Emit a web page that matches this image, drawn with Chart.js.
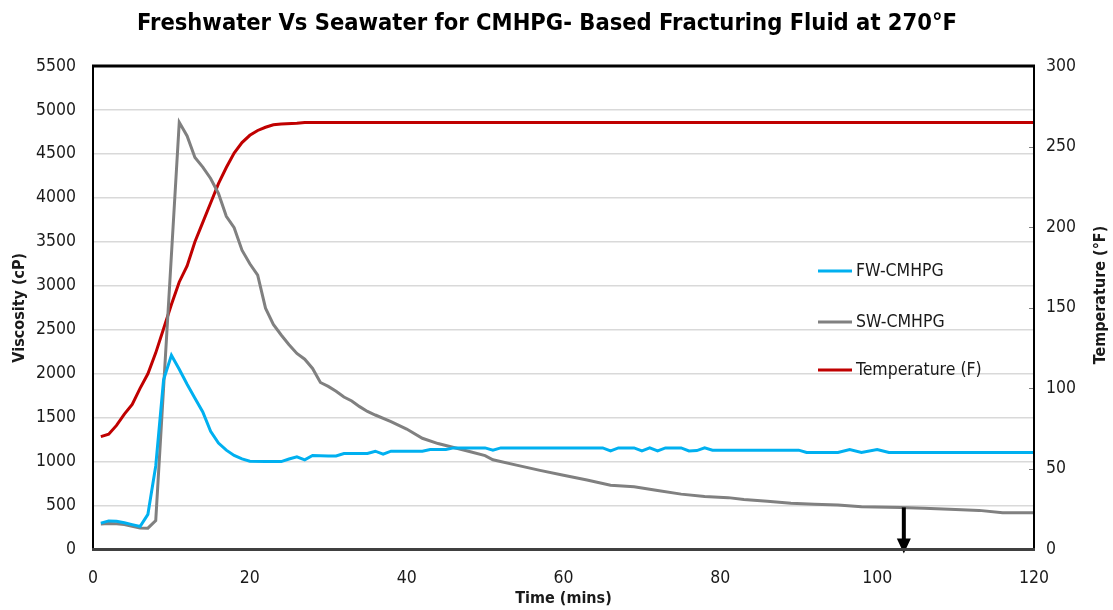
<!DOCTYPE html>
<html><head><meta charset="utf-8">
<script src="https://cdn.jsdelivr.net/npm/chart.js@4/dist/chart.umd.min.js"></script>
<style>html,body{margin:0;padding:0;background:#fff;}#wrap{width:1113px;height:610px;}</style>
</head><body><div id="wrap"><canvas id="c" width="1113" height="610"></canvas></div>
<script>
const chartTitle = "Freshwater Vs Seawater for CMHPG- Based Fracturing Fluid at 270°F";
const xTitle = "Time (mins)";
const yTitle = "Viscosity (cP)";
const y2Title = "Temperature (°F)";
const seriesLabels = ["FW-CMHPG", "SW-CMHPG", "Temperature (F)"];
const xTicks = [0, 20, 40, 60, 80, 100, 120];
const yTicks = [0, 500, 1000, 1500, 2000, 2500, 3000, 3500, 4000, 4500, 5000, 5500];
const y2Ticks = [0, 50, 100, 150, 200, 250, 300];

const fwTime = [1,2,3,4,5,6,7,8,9,10,11,12,13,14,15,16,17,18,19,20,22,24,25,26,27,28,30,31,32,35,36,37,38,42,43,45,46,50,51,52,65,66,67,69,70,71,72,73,75,76,77,78,79,90,91,95,96.5,98,100,101.5,120];
const fwVisc = [300,325,322,305,283,262,400,950,1930,2210,2050,1880,1720,1565,1345,1210,1130,1070,1030,1005,1000,1000,1030,1055,1020,1070,1065,1065,1092,1092,1118,1084,1118,1118,1137,1137,1156,1156,1130,1156,1156,1121,1156,1156,1121,1156,1121,1156,1156,1121,1125,1156,1130,1130,1103,1103,1137,1103,1137,1103,1103];

const swTime = [1,2,3,4,5,6,7,8,11,12,13,14,15,16,17,18,19,20,21,22,23,24,25,26,27,28,29,30,31,32,33,34,35,36,38,40,42,44,46,48,50,51,54,57,60,63,66,69,72,75,78,81,83,86,89,92,95,98,103,106,110,113,116,120];
const swVisc = [290,295,292,285,265,245,243,330,4860,4705,4460,4350,4220,4050,3790,3660,3405,3250,3120,2745,2560,2440,2330,2230,2165,2060,1900,1855,1800,1735,1690,1625,1570,1530,1455,1370,1265,1205,1160,1115,1068,1020,960,900,845,790,732,713,672,630,602,590,568,550,525,515,505,487,479,470,456,445,418,418];

const tempTime = [1,2,3,4,5,6,7,8,9,10,11,12,13,14,15,16,17,18,19,20,21,22,23,24,26,27,120];
const tempF = [70,71.5,77,84,90,100,109,122,137,152,166,176,191,203,215,227,237,246,252.5,257,260,262,263.5,264,264.5,265,265];

const arrowTime = 103.4;
const arrowTop = 479;

const seriesColors = ["#00B0F0", "#808080", "#C00000"];
const FONT = "'DejaVu Sans Condensed', 'Liberation Sans Narrow', sans-serif";
Chart.defaults.font.family = FONT;
Chart.defaults.color = "#1a1a1a";

function pts(t, v) { return t.map((x, i) => ({x: x, y: v[i]})); }

const decor = {
  id: 'decor',
  afterDatasetsDraw(chart) {
    const ctx = chart.ctx, a = chart.chartArea;
    const xs = chart.scales.x, ys = chart.scales.y, y2 = chart.scales.y2;
    ctx.save();
    // arrow
    const ax = xs.getPixelForValue(arrowTime);
    const aTop = ys.getPixelForValue(arrowTop);
    const aBot = ys.getPixelForValue(0) + 4;
    ctx.strokeStyle = '#000'; ctx.fillStyle = '#000'; ctx.lineWidth = 4;
    ctx.beginPath(); ctx.moveTo(ax, aTop); ctx.lineTo(ax, aBot - 12); ctx.stroke();
    ctx.beginPath(); ctx.moveTo(ax - 7, aBot - 15); ctx.lineTo(ax + 7, aBot - 15); ctx.lineTo(ax, aBot); ctx.closePath(); ctx.fill();
    // right axis inner ticks
    ctx.strokeStyle = '#808080'; ctx.lineWidth = 1;
    y2Ticks.forEach(v => { const y = Math.round(y2.getPixelForValue(v)) + 0.5; ctx.beginPath(); ctx.moveTo(a.right - 5, y); ctx.lineTo(a.right, y); ctx.stroke(); });
    // border
    ctx.strokeStyle = '#000'; ctx.lineWidth = 2;
    ctx.beginPath(); ctx.moveTo(a.left, a.top); ctx.lineTo(a.left, a.bottom); ctx.stroke();
    ctx.beginPath(); ctx.moveTo(a.right, a.top); ctx.lineTo(a.right, a.bottom); ctx.stroke();
    ctx.lineWidth = 3;
    ctx.beginPath(); ctx.moveTo(a.left - 1, a.top); ctx.lineTo(a.right + 1, a.top); ctx.stroke();
    ctx.strokeStyle = '#404040';
    ctx.beginPath(); ctx.moveTo(a.left - 1, a.bottom); ctx.lineTo(a.right + 1, a.bottom); ctx.stroke();
    // legend
    const ly = [271, 322, 370];
    ctx.font = "17.5px " + FONT; ctx.textBaseline = 'middle'; ctx.textAlign = 'left';
    seriesLabels.forEach((lab, i) => {
      ctx.strokeStyle = seriesColors[i]; ctx.lineWidth = 3;
      ctx.beginPath(); ctx.moveTo(818, ly[i]); ctx.lineTo(852, ly[i]); ctx.stroke();
      ctx.fillStyle = '#1a1a1a'; ctx.fillText(lab, 856, ly[i]);
    });
    // title
    ctx.fillStyle = '#000'; ctx.textAlign = 'center';
    ctx.font = "bold 23.5px " + FONT;
    ctx.fillText(chartTitle, 547, 24);
    // right axis title (reads bottom to top)
    ctx.save();
    ctx.translate(1101, 295); ctx.rotate(-Math.PI / 2);
    ctx.font = "bold 16px " + FONT; ctx.fillStyle = '#1a1a1a';
    ctx.fillText(y2Title, 0, 0);
    ctx.restore();
    ctx.restore();
  }
};

const plain = v => String(v);

new Chart(document.getElementById('c'), {
  type: 'line',
  data: {
    datasets: [
      {label: seriesLabels[0], data: pts(fwTime, fwVisc), borderColor: seriesColors[0], yAxisID: 'y'},
      {label: seriesLabels[1], data: pts(swTime, swVisc), borderColor: seriesColors[1], yAxisID: 'y'},
      {label: seriesLabels[2], data: pts(tempTime, tempF), borderColor: seriesColors[2], yAxisID: 'y2'}
    ]
  },
  options: {
    responsive: false, animation: false,
    layout: {padding: {top: 66, left: 0, right: 0, bottom: 0}},
    elements: {point: {radius: 0}, line: {borderWidth: 3, tension: 0}},
    plugins: {legend: {display: false}, title: {display: false}, tooltip: {enabled: false}},
    scales: {
      x: {
        type: 'linear', min: 0, max: 120,
        afterBuildTicks: s => { s.ticks = xTicks.map(v => ({value: v})); },
        afterFit: s => { s.height = 60.5; },
        grid: {display: false, drawTicks: false}, border: {display: false},
        ticks: {padding: 18, font: {size: 17.5}, maxRotation: 0, callback: plain},
        title: {display: true, text: xTitle, font: {size: 16, weight: 'bold'}, padding: {top: 0, bottom: 2}}
      },
      y: {
        position: 'left', min: 0, max: 5500,
        afterBuildTicks: s => { s.ticks = yTicks.map(v => ({value: v})); },
        afterFit: s => { s.width = 93; },
        grid: {color: '#d9d9d9', lineWidth: 1.5, drawTicks: false}, border: {display: false},
        ticks: {padding: 17, font: {size: 17.5}, callback: plain},
        title: {display: true, text: yTitle, font: {size: 16, weight: 'bold'}, padding: {top: 10, bottom: 0}}
      },
      y2: {
        position: 'right', min: 0, max: 300,
        afterBuildTicks: s => { s.ticks = y2Ticks.map(v => ({value: v})); },
        afterFit: s => { s.width = 79; },
        grid: {drawOnChartArea: false, drawTicks: false}, border: {display: false},
        ticks: {padding: 12, font: {size: 17.5}, callback: plain}
      }
    }
  },
  plugins: [decor]
});
</script></body></html>
